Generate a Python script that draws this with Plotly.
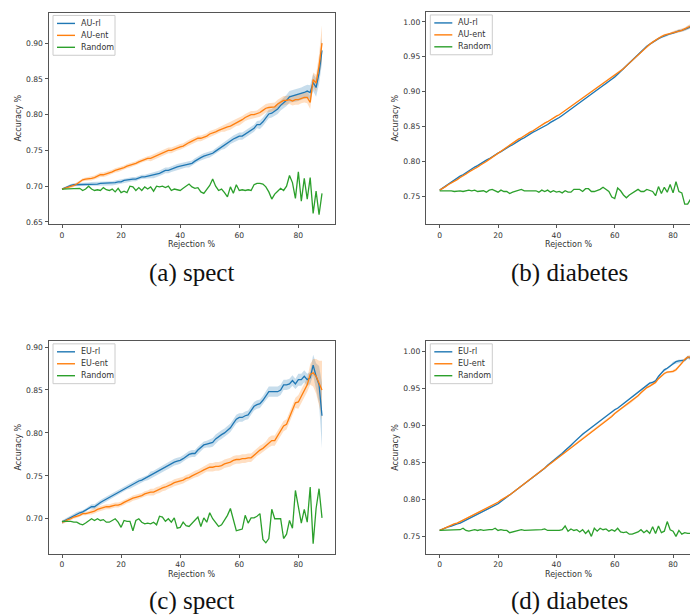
import plotly.graph_objects as go

W, H = 698, 616

# ---------------- data ----------------
x_spect = list(range(0, 89))
x_diab = list(range(0, 90))

a_rl = [0.696,0.698,0.700,0.701,0.702,0.702,0.703,0.703,0.703,0.703,
        0.703,0.703,0.703,0.704,0.704,0.704,0.704,0.704,0.705,0.706,
        0.706,0.708,0.709,0.709,0.710,0.710,0.712,0.713,0.713,0.714,
        0.715,0.715,0.716,0.718,0.720,0.722,0.722,0.724,0.725,0.727,
        0.728,0.729,0.730,0.730,0.732,0.735,0.738,0.740,0.742,0.743,
        0.744,0.746,0.749,0.752,0.755,0.757,0.760,0.764,0.766,0.768,
        0.770,0.770,0.773,0.776,0.778,0.781,0.786,0.786,0.790,0.795,
        0.801,0.802,0.805,0.808,0.813,0.816,0.820,0.825,0.826,0.827,
        0.828,0.829,0.831,0.833,0.831,0.845,0.838,0.858,0.890]
a_rl_band = [0.001,0.001,0.002,0.002,0.002,0.002,0.002,0.002,0.002,0.002,
             0.003,0.003,0.003,0.003,0.003,0.003,0.003,0.003,0.003,0.003,
             0.003,0.003,0.003,0.003,0.003,0.003,0.003,0.003,0.003,0.003,
             0.004,0.004,0.004,0.004,0.004,0.004,0.004,0.004,0.004,0.004,
             0.004,0.004,0.004,0.004,0.004,0.004,0.004,0.004,0.004,0.004,
             0.004,0.004,0.004,0.004,0.004,0.005,0.005,0.005,0.005,0.005,
             0.005,0.005,0.005,0.005,0.005,0.005,0.005,0.006,0.006,0.006,
             0.006,0.006,0.007,0.007,0.007,0.007,0.008,0.008,0.008,0.009,
             0.009,0.009,0.009,0.009,0.010,0.012,0.013,0.015,0.018]
a_ent = [0.696,0.697,0.698,0.699,0.701,0.703,0.706,0.709,0.710,0.710,
         0.711,0.712,0.714,0.716,0.716,0.717,0.719,0.720,0.722,0.723,
         0.724,0.726,0.728,0.729,0.730,0.732,0.734,0.736,0.738,0.739,
         0.739,0.741,0.743,0.745,0.747,0.748,0.750,0.750,0.752,0.754,
         0.755,0.756,0.759,0.761,0.763,0.765,0.767,0.767,0.768,0.770,
         0.773,0.774,0.776,0.778,0.780,0.781,0.783,0.784,0.786,0.789,
         0.790,0.793,0.796,0.798,0.800,0.800,0.801,0.803,0.806,0.809,
         0.810,0.810,0.811,0.815,0.818,0.820,0.820,0.821,0.819,0.821,
         0.821,0.823,0.824,0.824,0.817,0.849,0.844,0.868,0.900]
a_ent_band = [0.001,0.001,0.002,0.002,0.002,0.002,0.002,0.002,0.002,0.002,
              0.003,0.003,0.003,0.003,0.003,0.003,0.003,0.003,0.003,0.003,
              0.003,0.003,0.003,0.003,0.003,0.003,0.003,0.003,0.003,0.003,
              0.004,0.004,0.004,0.004,0.004,0.004,0.004,0.004,0.004,0.004,
              0.004,0.004,0.004,0.004,0.004,0.004,0.004,0.004,0.004,0.004,
              0.004,0.004,0.004,0.004,0.004,0.005,0.005,0.005,0.005,0.005,
              0.005,0.005,0.005,0.005,0.005,0.005,0.005,0.006,0.006,0.006,
              0.006,0.006,0.006,0.006,0.006,0.006,0.006,0.006,0.006,0.007,
              0.007,0.007,0.007,0.008,0.009,0.010,0.012,0.016,0.025]
a_rand = [0.696,0.696,0.696,0.697,0.696,0.697,0.697,0.694,0.696,0.700,
          0.696,0.694,0.695,0.694,0.698,0.695,0.694,0.696,0.692,0.697,
          0.691,0.693,0.691,0.700,0.699,0.694,0.698,0.694,0.699,0.696,
          0.699,0.693,0.700,0.699,0.700,0.698,0.700,0.694,0.696,0.695,
          0.694,0.697,0.700,0.703,0.699,0.697,0.698,0.692,0.690,0.695,
          0.701,0.710,0.700,0.694,0.696,0.691,0.685,0.699,0.690,0.702,
          0.694,0.695,0.694,0.695,0.694,0.702,0.704,0.704,0.703,0.699,
          0.692,0.682,0.689,0.693,0.697,0.694,0.700,0.715,0.705,0.683,
          0.720,0.679,0.711,0.682,0.712,0.662,0.693,0.660,0.690]

b_rl = [0.759,0.762,0.765,0.768,0.770,0.773,0.776,0.779,0.781,0.784,
        0.787,0.789,0.792,0.794,0.797,0.799,0.802,0.804,0.807,0.809,
        0.812,0.814,0.817,0.819,0.822,0.824,0.827,0.829,0.832,0.834,
        0.837,0.839,0.842,0.844,0.846,0.849,0.851,0.853,0.856,0.858,
        0.861,0.863,0.866,0.869,0.872,0.876,0.879,0.882,0.885,0.888,
        0.891,0.894,0.897,0.900,0.903,0.906,0.909,0.911,0.914,0.918,
        0.921,0.925,0.929,0.933,0.937,0.941,0.945,0.949,0.953,0.957,
        0.962,0.965,0.968,0.971,0.974,0.976,0.978,0.980,0.981,0.983,
        0.984,0.986,0.987,0.988,0.989,0.991,0.993,0.995,0.997,0.995]
b_rl_band = [0.001,0.001,0.001,0.001,0.001,0.001,0.001,0.001,0.001,0.001,
             0.001,0.001,0.001,0.001,0.001,0.001,0.001,0.001,0.001,0.001,
             0.001,0.001,0.001,0.001,0.001,0.001,0.001,0.001,0.001,0.001,
             0.001,0.001,0.001,0.001,0.001,0.001,0.001,0.001,0.001,0.001,
             0.001,0.001,0.001,0.001,0.001,0.001,0.001,0.001,0.001,0.001,
             0.001,0.001,0.001,0.001,0.001,0.001,0.001,0.001,0.001,0.001,
             0.0015,0.0015,0.0015,0.0015,0.0015,0.0015,0.0015,0.0015,0.0015,0.0015,
             0.0015,0.0015,0.0015,0.0015,0.0015,0.0015,0.0015,0.0015,0.0015,0.0015,
             0.002,0.002,0.002,0.002,0.002,0.003,0.003,0.003,0.003,0.003]
b_ent = [0.759,0.761,0.764,0.767,0.769,0.772,0.774,0.777,0.779,0.782,
         0.785,0.787,0.790,0.792,0.795,0.797,0.800,0.803,0.806,0.809,
         0.812,0.815,0.818,0.821,0.823,0.826,0.829,0.832,0.834,0.837,
         0.839,0.842,0.844,0.847,0.850,0.852,0.855,0.857,0.860,0.862,
         0.865,0.867,0.870,0.873,0.876,0.879,0.882,0.885,0.888,0.891,
         0.894,0.897,0.900,0.903,0.906,0.909,0.912,0.915,0.918,0.921,
         0.923,0.926,0.929,0.933,0.937,0.941,0.945,0.949,0.953,0.957,
         0.961,0.965,0.968,0.971,0.974,0.977,0.979,0.981,0.982,0.983,
         0.985,0.986,0.987,0.988,0.990,0.992,0.994,0.996,0.996,0.995]
b_ent_band = b_rl_band
b_rand = [0.758,0.758,0.759,0.758,0.758,0.757,0.758,0.758,0.757,0.758,
          0.759,0.758,0.759,0.757,0.758,0.758,0.756,0.759,0.760,0.758,
          0.756,0.759,0.757,0.757,0.754,0.756,0.757,0.759,0.760,0.758,
          0.758,0.758,0.757,0.758,0.756,0.759,0.757,0.759,0.756,0.758,
          0.756,0.757,0.755,0.758,0.756,0.756,0.760,0.760,0.760,0.757,
          0.761,0.761,0.757,0.757,0.758,0.760,0.763,0.760,0.757,0.749,
          0.747,0.762,0.758,0.752,0.748,0.752,0.755,0.757,0.760,0.757,
          0.757,0.760,0.758,0.757,0.751,0.764,0.754,0.763,0.756,0.767,
          0.755,0.771,0.757,0.755,0.739,0.739,0.746,0.756,0.723,0.790]

c_rl = [0.696,0.698,0.700,0.702,0.704,0.706,0.707,0.708,0.710,0.713,
        0.714,0.714,0.717,0.719,0.721,0.723,0.725,0.727,0.729,0.731,
        0.733,0.735,0.737,0.738,0.740,0.742,0.744,0.745,0.747,0.748,
        0.751,0.752,0.754,0.756,0.758,0.760,0.762,0.764,0.766,0.767,
        0.768,0.770,0.773,0.775,0.776,0.776,0.780,0.783,0.786,0.787,
        0.788,0.789,0.793,0.796,0.798,0.800,0.803,0.806,0.811,0.816,
        0.818,0.818,0.820,0.821,0.826,0.831,0.833,0.834,0.838,0.843,
        0.848,0.848,0.848,0.848,0.850,0.856,0.856,0.857,0.861,0.857,
        0.862,0.862,0.866,0.862,0.864,0.879,0.866,0.856,0.820]
c_rl_band = [0.002,0.002,0.002,0.002,0.002,0.002,0.002,0.002,0.002,0.002,
             0.003,0.003,0.003,0.003,0.003,0.003,0.003,0.003,0.003,0.003,
             0.003,0.003,0.003,0.003,0.003,0.003,0.003,0.003,0.003,0.003,
             0.004,0.004,0.004,0.004,0.004,0.004,0.004,0.004,0.004,0.004,
             0.004,0.004,0.004,0.004,0.004,0.004,0.004,0.004,0.004,0.004,
             0.005,0.005,0.005,0.005,0.005,0.005,0.005,0.005,0.005,0.005,
             0.005,0.005,0.005,0.005,0.005,0.005,0.005,0.005,0.005,0.005,
             0.006,0.006,0.006,0.006,0.006,0.006,0.006,0.006,0.006,0.006,
             0.007,0.007,0.007,0.007,0.007,0.012,0.015,0.022,0.038]
c_ent = [0.696,0.697,0.699,0.700,0.702,0.703,0.704,0.706,0.706,0.707,
         0.708,0.709,0.711,0.712,0.713,0.714,0.714,0.715,0.716,0.716,
         0.717,0.719,0.721,0.722,0.724,0.725,0.726,0.727,0.729,0.730,
         0.731,0.731,0.733,0.734,0.736,0.737,0.739,0.740,0.742,0.743,
         0.744,0.745,0.747,0.748,0.750,0.752,0.753,0.755,0.757,0.759,
         0.760,0.760,0.761,0.761,0.762,0.764,0.765,0.766,0.768,0.769,
         0.769,0.770,0.770,0.771,0.771,0.774,0.778,0.780,0.782,0.785,
         0.789,0.791,0.791,0.797,0.803,0.808,0.810,0.819,0.826,0.835,
         0.836,0.843,0.849,0.856,0.868,0.870,0.866,0.858,0.850]
c_ent_band = [0.002,0.002,0.002,0.002,0.002,0.002,0.002,0.002,0.002,0.002,
              0.003,0.003,0.003,0.003,0.003,0.003,0.003,0.003,0.003,0.003,
              0.003,0.003,0.003,0.003,0.003,0.003,0.003,0.003,0.003,0.003,
              0.004,0.004,0.004,0.004,0.004,0.004,0.004,0.004,0.004,0.004,
              0.004,0.004,0.004,0.004,0.004,0.004,0.004,0.004,0.004,0.004,
              0.005,0.005,0.005,0.005,0.005,0.005,0.005,0.005,0.005,0.005,
              0.005,0.005,0.005,0.005,0.005,0.005,0.005,0.005,0.005,0.005,
              0.006,0.006,0.006,0.006,0.006,0.006,0.006,0.006,0.006,0.006,
              0.008,0.008,0.008,0.008,0.012,0.016,0.020,0.026,0.034]
c_rand = [0.697,0.697,0.697,0.697,0.696,0.696,0.694,0.693,0.695,0.697,
          0.700,0.698,0.700,0.698,0.699,0.696,0.696,0.698,0.700,0.696,
          0.690,0.698,0.697,0.697,0.686,0.698,0.700,0.696,0.694,0.695,
          0.694,0.696,0.693,0.703,0.702,0.697,0.700,0.696,0.701,0.689,
          0.690,0.696,0.692,0.691,0.695,0.698,0.702,0.691,0.701,0.696,
          0.707,0.700,0.696,0.691,0.693,0.698,0.704,0.712,0.700,0.686,
          0.687,0.688,0.704,0.695,0.701,0.701,0.703,0.706,0.676,0.672,
          0.677,0.711,0.700,0.700,0.700,0.677,0.682,0.698,0.689,0.733,
          0.714,0.695,0.711,0.696,0.737,0.671,0.712,0.735,0.701]

d_rl = [0.758,0.760,0.761,0.763,0.764,0.766,0.767,0.768,0.770,0.771,
        0.773,0.775,0.777,0.779,0.781,0.783,0.785,0.787,0.790,0.792,
        0.794,0.797,0.800,0.802,0.805,0.808,0.811,0.814,0.817,0.820,
        0.823,0.826,0.830,0.833,0.836,0.839,0.842,0.846,0.849,0.853,
        0.856,0.859,0.862,0.866,0.869,0.873,0.877,0.881,0.885,0.888,
        0.891,0.894,0.898,0.901,0.904,0.907,0.910,0.913,0.916,0.918,
        0.921,0.923,0.926,0.929,0.932,0.935,0.938,0.941,0.944,0.948,
        0.951,0.954,0.957,0.958,0.960,0.966,0.971,0.975,0.977,0.980,
        0.984,0.986,0.987,0.987,0.988,0.992,0.991,0.990,0.991,0.993]
d_rl_band = [0.001,0.001,0.001,0.001,0.001,0.001,0.001,0.001,0.001,0.001,
             0.001,0.001,0.001,0.001,0.001,0.001,0.001,0.001,0.001,0.001,
             0.001,0.001,0.001,0.001,0.001,0.001,0.001,0.001,0.001,0.001,
             0.001,0.001,0.001,0.001,0.001,0.001,0.001,0.001,0.001,0.001,
             0.0015,0.0015,0.0015,0.0015,0.0015,0.0015,0.0015,0.0015,0.0015,0.0015,
             0.0015,0.0015,0.0015,0.0015,0.0015,0.0015,0.0015,0.0015,0.0015,0.0015,
             0.0015,0.0015,0.0015,0.0015,0.0015,0.0015,0.0015,0.0015,0.0015,0.0015,
             0.0015,0.0015,0.0015,0.0015,0.0015,0.0015,0.0015,0.0015,0.0015,0.0015,
             0.002,0.002,0.002,0.002,0.002,0.002,0.003,0.003,0.003,0.003]
d_ent = [0.758,0.760,0.762,0.764,0.765,0.767,0.768,0.770,0.771,0.773,
         0.775,0.777,0.779,0.781,0.783,0.785,0.787,0.789,0.792,0.794,
         0.796,0.799,0.801,0.804,0.806,0.809,0.812,0.815,0.818,0.821,
         0.824,0.827,0.830,0.833,0.836,0.840,0.843,0.846,0.849,0.852,
         0.855,0.858,0.861,0.864,0.867,0.870,0.873,0.876,0.879,0.882,
         0.885,0.888,0.891,0.894,0.897,0.900,0.903,0.906,0.909,0.912,
         0.916,0.919,0.922,0.925,0.928,0.930,0.933,0.936,0.940,0.944,
         0.948,0.951,0.953,0.955,0.958,0.963,0.967,0.970,0.972,0.972,
         0.973,0.975,0.979,0.984,0.989,0.992,0.992,0.993,0.993,0.995]
d_ent_band = d_rl_band
d_rand = [0.758,0.758,0.758,0.758,0.759,0.758,0.759,0.759,0.761,0.758,
          0.757,0.758,0.759,0.758,0.759,0.758,0.759,0.759,0.759,0.761,
          0.758,0.759,0.758,0.758,0.755,0.756,0.758,0.758,0.759,0.758,
          0.758,0.759,0.758,0.759,0.758,0.759,0.760,0.758,0.758,0.758,
          0.757,0.758,0.759,0.764,0.757,0.760,0.758,0.759,0.756,0.759,
          0.754,0.758,0.750,0.761,0.757,0.761,0.759,0.760,0.757,0.759,
          0.757,0.761,0.756,0.755,0.756,0.753,0.753,0.754,0.756,0.759,
          0.755,0.758,0.754,0.763,0.754,0.764,0.755,0.757,0.770,0.759,
          0.757,0.750,0.758,0.753,0.755,0.754,0.754,0.763,0.770,0.740]

x_ticks = [0, 20, 40, 60, 80]
y_ticks_a = [0.65, 0.70, 0.75, 0.80, 0.85, 0.90]
y_ticks_b = [0.75, 0.80, 0.85, 0.90, 0.95, 1.00]
y_ticks_c = [0.70, 0.75, 0.80, 0.85, 0.90]
y_ticks_d = [0.75, 0.80, 0.85, 0.90, 0.95, 1.00]

panels = [
    dict(x=x_spect, rl=a_rl, rlb=a_rl_band, ent=a_ent, entb=a_ent_band, rnd=a_rand,
         names=["AU-rl", "AU-ent", "Random"], caption="(a) spect", yt=y_ticks_a,
         px=(41, 327, 5, 217), xr=[-4.4, 92.4], yr=[0.6472, 0.9422], right=True, cap_y=266),
    dict(x=x_diab, rl=b_rl, rlb=b_rl_band, ent=b_ent, entb=b_ent_band, rnd=b_rand,
         names=["AU-rl", "AU-ent", "Random"], caption="(b) diabetes", yt=y_ticks_b,
         px=(418.3, 698, 4.5, 217), xr=[-4.59, 91.29], yr=[0.7105, 1.0135], right=False, cap_y=266),
    dict(x=x_spect, rl=c_rl, rlb=c_rl_band, ent=c_ent, entb=c_ent_band, rnd=c_rand,
         names=["EU-rl", "EU-ent", "Random"], caption="(c) spect", yt=y_ticks_c,
         px=(41, 327, 335, 548.3), xr=[-4.4, 92.4], yr=[0.6594, 0.9066], right=True, cap_y=596),
    dict(x=x_diab, rl=d_rl, rlb=d_rl_band, ent=d_ent, entb=d_ent_band, rnd=d_rand,
         names=["EU-rl", "EU-ent", "Random"], caption="(d) diabetes", yt=y_ticks_d,
         px=(418.3, 698, 335, 548.3), xr=[-4.59, 91.29], yr=[0.7267, 1.0134], right=False, cap_y=596),
]

BLUE, ORANGE, GREEN = "#1f77b4", "#ff7f0e", "#2ca02c"
BLUE_F, ORANGE_F = "rgba(31,119,180,0.25)", "rgba(255,127,14,0.25)"
FRAME = "#555555"
TXT = "#333333"

def PX(p):
    return p / W

def PY(p):
    return 1 - p / H

fig = go.Figure()
shapes, annotations = [], []
layout = {}

for i, p in enumerate(panels):
    sfx = "" if i == 0 else str(i + 1)
    xa, ya = "x" + sfx, "y" + sfx
    l, r, t, b = p["px"]
    xs = p["x"]
    for mean, band, fc in ((p["rl"], p["rlb"], BLUE_F), (p["ent"], p["entb"], ORANGE_F)):
        upper = [m + s for m, s in zip(mean, band)]
        lower = [m - s for m, s in zip(mean, band)]
        fig.add_trace(go.Scatter(x=xs + xs[::-1], y=upper + lower[::-1], fill="toself",
                                 fillcolor=fc, line=dict(width=0), mode="lines",
                                 hoverinfo="skip", showlegend=False, xaxis=xa, yaxis=ya))
    for ys, col, nm in ((p["rl"], BLUE, p["names"][0]), (p["ent"], ORANGE, p["names"][1]),
                        (p["rnd"], GREEN, p["names"][2])):
        fig.add_trace(go.Scatter(x=xs, y=ys, mode="lines", name=nm,
                                 line=dict(color=col, width=1.3),
                                 showlegend=False, xaxis=xa, yaxis=ya))

    layout["xaxis" + sfx] = dict(
        domain=[PX(l), PX(r)], range=p["xr"], anchor=ya, tickvals=x_ticks,
        showline=True, linecolor=FRAME, linewidth=1, mirror=True,
        ticks="outside", ticklen=3.5, tickwidth=0.8, tickcolor=FRAME,
        tickfont=dict(family="DejaVu Sans", size=7.6, color=TXT),
        showgrid=False, zeroline=False, fixedrange=True)
    layout["yaxis" + sfx] = dict(
        domain=[PY(b), PY(t)], range=p["yr"], anchor=xa, tickvals=p["yt"],
        tickformat=".2f",
        showline=True, linecolor=FRAME, linewidth=1, mirror=p["right"],
        ticks="outside", ticklen=3.5, tickwidth=0.8, tickcolor=FRAME,
        tickfont=dict(family="DejaVu Sans", size=7.6, color=TXT),
        showgrid=False, zeroline=False, fixedrange=True)

    # axis titles
    cx = (l + (r if p["right"] else 704)) / 2
    annotations.append(dict(text="Rejection %", x=PX(cx), y=PY(b + 20.7), xref="paper",
                            yref="paper", showarrow=False, xanchor="center", yanchor="middle",
                            font=dict(family="DejaVu Sans", size=8, color=TXT)))
    annotations.append(dict(text="Accuracy %", x=PX(l - 31), y=PY((t + b) / 2), xref="paper",
                            yref="paper", showarrow=False, textangle=-90, xanchor="center",
                            yanchor="middle", font=dict(family="DejaVu Sans", size=8, color=TXT)))
    # captions
    annotations.append(dict(text=p["caption"], x=PX(cx), y=PY(p["cap_y"]), xref="paper",
                            yref="paper", showarrow=False, xanchor="center", yanchor="middle",
                            font=dict(family="Liberation Serif", size=25, color="#111111")))
    # legend box
    shapes.append(dict(type="rect", xref="paper", yref="paper",
                       x0=PX(l + 4), x1=PX(l + 66), y0=PY(t + 2.5), y1=PY(t + 42.5),
                       line=dict(color="#cccccc", width=1), fillcolor="rgba(255,255,255,0.8)"))
    for k, (nm, col) in enumerate(zip(p["names"], (BLUE, ORANGE, GREEN))):
        yy = t + 10.5 + 12 * k
        shapes.append(dict(type="line", xref="paper", yref="paper",
                           x0=PX(l + 8), x1=PX(l + 26), y0=PY(yy), y1=PY(yy),
                           line=dict(color=col, width=1.4)))
        annotations.append(dict(text=nm, x=PX(l + 30), y=PY(yy), xref="paper", yref="paper",
                                showarrow=False, xanchor="left", yanchor="middle",
                                font=dict(family="DejaVu Sans", size=8, color=TXT)))

fig.update_layout(
    width=W, height=H, margin=dict(l=0, r=0, t=0, b=0),
    paper_bgcolor="white", plot_bgcolor="white", showlegend=False,
    shapes=shapes, annotations=annotations, **layout)

fig.write_html("out.html")
